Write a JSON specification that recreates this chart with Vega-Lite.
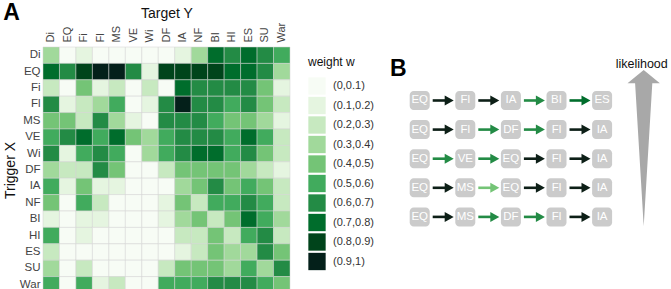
{
  "$schema": "https://vega.github.io/schema/vega-lite/v6.json",
  "padding": {"left": 3, "top": 2, "right": 0, "bottom": 0},
  "background": "white",
  "config": {
    "font": "Liberation Sans",
    "view": {"stroke": null},
    "axis": {"labelFont": "Liberation Sans", "titleFont": "Liberation Sans"},
    "legend": {"labelFont": "Liberation Sans", "titleFont": "Liberation Sans"},
    "title": {"font": "Liberation Sans"}
  },
  "spacing": 6,
  "resolve": {"scale": {"color": "independent"}, "legend": {"color": "independent"}},
  "datasets": {
    "heat": [
      {"trigger": "Di", "Di": 3, "EQ": 0, "Fi": 1, "Fl": 0, "MS": 0, "VE": 0, "Wi": 0, "DF": 0, "IA": 1, "NF": 3, "BI": 7, "HI": 6, "ES": 7, "SU": 6, "War": 5},
      {"trigger": "EQ", "Di": 7, "EQ": 6, "Fi": 8, "Fl": 9, "MS": 9, "VE": 6, "Wi": 1, "DF": 8, "IA": 8, "NF": 8, "BI": 8, "HI": 7, "ES": 7, "SU": 6, "War": 3},
      {"trigger": "Fi", "Di": 2, "EQ": 0, "Fi": 4, "Fl": 1, "MS": 2, "VE": 0, "Wi": 2, "DF": 0, "IA": 7, "NF": 6, "BI": 6, "HI": 6, "ES": 6, "SU": 4, "War": 1},
      {"trigger": "Fl", "Di": 6, "EQ": 1, "Fi": 2, "Fl": 3, "MS": 5, "VE": 0, "Wi": 1, "DF": 6, "IA": 9, "NF": 6, "BI": 6, "HI": 5, "ES": 6, "SU": 4, "War": 2},
      {"trigger": "MS", "Di": 4, "EQ": 4, "Fi": 2, "Fl": 6, "MS": 3, "VE": 1, "Wi": 0, "DF": 6, "IA": 6, "NF": 6, "BI": 5, "HI": 4, "ES": 4, "SU": 3, "War": 1},
      {"trigger": "VE", "Di": 5, "EQ": 6, "Fi": 7, "Fl": 5, "MS": 7, "VE": 4, "Wi": 3, "DF": 5, "IA": 6, "NF": 6, "BI": 6, "HI": 5, "ES": 7, "SU": 5, "War": 2},
      {"trigger": "Wi", "Di": 6, "EQ": 1, "Fi": 5, "Fl": 6, "MS": 5, "VE": 0, "Wi": 3, "DF": 5, "IA": 6, "NF": 7, "BI": 7, "HI": 5, "ES": 6, "SU": 4, "War": 2},
      {"trigger": "DF", "Di": 3, "EQ": 2, "Fi": 2, "Fl": 6, "MS": 4, "VE": 0, "Wi": 0, "DF": 2, "IA": 4, "NF": 4, "BI": 4, "HI": 4, "ES": 3, "SU": 2, "War": 1},
      {"trigger": "IA", "Di": 5, "EQ": 1, "Fi": 4, "Fl": 1, "MS": 1, "VE": 0, "Wi": 0, "DF": 0, "IA": 3, "NF": 4, "BI": 6, "HI": 4, "ES": 5, "SU": 4, "War": 2},
      {"trigger": "NF", "Di": 4, "EQ": 0, "Fi": 5, "Fl": 2, "MS": 0, "VE": 0, "Wi": 0, "DF": 1, "IA": 4, "NF": 2, "BI": 5, "HI": 5, "ES": 6, "SU": 5, "War": 2},
      {"trigger": "BI", "Di": 1, "EQ": 0, "Fi": 1, "Fl": 1, "MS": 0, "VE": 0, "Wi": 0, "DF": 1, "IA": 3, "NF": 4, "BI": 2, "HI": 4, "ES": 7, "SU": 5, "War": 3},
      {"trigger": "HI", "Di": 5, "EQ": 0, "Fi": 1, "Fl": 0, "MS": 0, "VE": 0, "Wi": 0, "DF": 0, "IA": 2, "NF": 2, "BI": 4, "HI": 2, "ES": 5, "SU": 6, "War": 2},
      {"trigger": "ES", "Di": 2, "EQ": 0, "Fi": 0, "Fl": 0, "MS": 0, "VE": 0, "Wi": 0, "DF": 0, "IA": 1, "NF": 2, "BI": 4, "HI": 3, "ES": 3, "SU": 6, "War": 4},
      {"trigger": "SU", "Di": 3, "EQ": 0, "Fi": 2, "Fl": 0, "MS": 0, "VE": 0, "Wi": 0, "DF": 2, "IA": 4, "NF": 4, "BI": 4, "HI": 3, "ES": 5, "SU": 3, "War": 6},
      {"trigger": "War", "Di": 5, "EQ": 0, "Fi": 5, "Fl": 1, "MS": 2, "VE": 0, "Wi": 0, "DF": 5, "IA": 5, "NF": 5, "BI": 6, "HI": 6, "ES": 6, "SU": 5, "War": 4}
    ],
    "boxes": [
      {"rank": 1, "step": 0, "label": "EQ"}, {"rank": 1, "step": 1, "label": "Fl"}, {"rank": 1, "step": 2, "label": "IA"}, {"rank": 1, "step": 3, "label": "BI"}, {"rank": 1, "step": 4, "label": "ES"},
      {"rank": 2, "step": 0, "label": "EQ"}, {"rank": 2, "step": 1, "label": "Fl"}, {"rank": 2, "step": 2, "label": "DF"}, {"rank": 2, "step": 3, "label": "Fl"}, {"rank": 2, "step": 4, "label": "IA"},
      {"rank": 3, "step": 0, "label": "EQ"}, {"rank": 3, "step": 1, "label": "VE"}, {"rank": 3, "step": 2, "label": "EQ"}, {"rank": 3, "step": 3, "label": "Fl"}, {"rank": 3, "step": 4, "label": "IA"},
      {"rank": 4, "step": 0, "label": "EQ"}, {"rank": 4, "step": 1, "label": "MS"}, {"rank": 4, "step": 2, "label": "EQ"}, {"rank": 4, "step": 3, "label": "Fl"}, {"rank": 4, "step": 4, "label": "IA"},
      {"rank": 5, "step": 0, "label": "EQ"}, {"rank": 5, "step": 1, "label": "MS"}, {"rank": 5, "step": 2, "label": "DF"}, {"rank": 5, "step": 3, "label": "Fl"}, {"rank": 5, "step": 4, "label": "IA"}
    ],
    "arrows": [
      {"rank": 1, "step": 0, "w": 9}, {"rank": 1, "step": 1, "w": 9}, {"rank": 1, "step": 2, "w": 6}, {"rank": 1, "step": 3, "w": 7},
      {"rank": 2, "step": 0, "w": 9}, {"rank": 2, "step": 1, "w": 6}, {"rank": 2, "step": 2, "w": 6}, {"rank": 2, "step": 3, "w": 9},
      {"rank": 3, "step": 0, "w": 6}, {"rank": 3, "step": 1, "w": 6}, {"rank": 3, "step": 2, "w": 9}, {"rank": 3, "step": 3, "w": 9},
      {"rank": 4, "step": 0, "w": 9}, {"rank": 4, "step": 1, "w": 4}, {"rank": 4, "step": 2, "w": 9}, {"rank": 4, "step": 3, "w": 9},
      {"rank": 5, "step": 0, "w": 9}, {"rank": 5, "step": 1, "w": 6}, {"rank": 5, "step": 2, "w": 6}, {"rank": 5, "step": 3, "w": 9}
    ],
    "scale": [{"step": 5, "rank": 3, "label": "likelihood"}]
  },
  "hconcat": [
    {
      "width": 247,
      "height": 246,
      "title": {"text": "A", "anchor": "start", "frame": "bounds", "fontSize": 23, "fontWeight": "bold", "color": "#000000", "offset": -19},
      "data": {"name": "heat"},
      "transform": [{"fold": ["Di", "EQ", "Fi", "Fl", "MS", "VE", "Wi", "DF", "IA", "NF", "BI", "HI", "ES", "SU", "War"], "as": ["target", "w"]}],
      "mark": {"type": "rect", "stroke": "#d2d2d2", "strokeWidth": 0.5},
      "encoding": {
        "x": {
          "field": "target", "type": "nominal",
          "sort": ["Di", "EQ", "Fi", "Fl", "MS", "VE", "Wi", "DF", "IA", "NF", "BI", "HI", "ES", "SU", "War"],
          "scale": {"paddingInner": 0, "paddingOuter": 0},
          "axis": {"orient": "top", "title": "Target Y", "titleFontSize": 14, "titleFontWeight": "normal", "titleColor": "#111", "titlePadding": 2, "labelAngle": -90, "labelFontSize": 11, "labelColor": "#444", "labelPadding": 5, "ticks": false, "domain": false}
        },
        "y": {
          "field": "trigger", "type": "nominal",
          "sort": ["Di", "EQ", "Fi", "Fl", "MS", "VE", "Wi", "DF", "IA", "NF", "BI", "HI", "ES", "SU", "War"],
          "scale": {"paddingInner": 0, "paddingOuter": 0},
          "axis": {"title": "Trigger X", "titleFontSize": 14, "titleFontWeight": "normal", "titleColor": "#111", "titlePadding": 2, "labelFontSize": 11.5, "labelColor": "#444", "labelPadding": 3, "ticks": false, "domain": false}
        },
        "color": {
          "field": "w", "type": "ordinal",
          "scale": {"domain": [0, 1, 2, 3, 4, 5, 6, 7, 8, 9], "range": ["#f7fcf5", "#e5f5e0", "#c7e9c0", "#a1d99b", "#74c476", "#41ab5d", "#238b45", "#006d2c", "#00441b", "#04201a"]},
          "legend": {
            "title": "weight w", "titleFontSize": 12, "titleFontWeight": "normal", "titleColor": "#111", "titlePadding": 8,
            "labelExpr": "'(' + (datum.value/10) + ',' + ((datum.value+1)/10) + ')'",
            "labelFontSize": 11, "labelColor": "#333", "labelOffset": 7,
            "symbolType": "square", "symbolSize": 300, "symbolStrokeWidth": 0, "symbolOpacity": 1,
            "rowPadding": 1.5, "offset": 8, "padding": 10
          }
        }
      }
    },
    {
      "width": 273,
      "height": 246,
      "title": {"text": "B", "anchor": "start", "frame": "group", "fontSize": 23, "fontWeight": "bold", "color": "#000000", "offset": -34, "dx": -4},
      "layer": [
        {
          "data": {"name": "boxes"},
          "mark": {"type": "rect", "color": "#cbcbcb", "cornerRadius": 4, "xOffset": -10, "x2Offset": 10, "yOffset": -9.5, "y2Offset": 9.5},
          "encoding": {
            "x": {"field": "step", "type": "quantitative", "scale": {"domain": [-0.5636, 5.4232], "nice": false, "zero": false}, "axis": null},
            "x2": {"field": "step"},
            "y": {"field": "rank", "type": "quantitative", "scale": {"domain": [-0.838, 7.615], "nice": false, "zero": false, "reverse": true}, "axis": null},
            "y2": {"field": "rank"}
          }
        },
        {
          "data": {"name": "boxes"},
          "mark": {"type": "text", "color": "white", "fontSize": 11.5, "align": "center", "baseline": "middle"},
          "encoding": {
            "x": {"field": "step", "type": "quantitative"},
            "y": {"field": "rank", "type": "quantitative"},
            "text": {"field": "label"}
          }
        },
        {
          "data": {"name": "arrows"},
          "mark": {"type": "rule", "strokeWidth": 2.6, "xOffset": 13, "x2Offset": 28},
          "encoding": {
            "x": {"field": "step", "type": "quantitative"},
            "x2": {"field": "step"},
            "y": {"field": "rank", "type": "quantitative"},
            "color": {"field": "w", "type": "ordinal", "scale": {"domain": [0, 1, 2, 3, 4, 5, 6, 7, 8, 9], "range": ["#f7fcf5", "#e5f5e0", "#c7e9c0", "#a1d99b", "#74c476", "#41ab5d", "#238b45", "#006d2c", "#00441b", "#0d1f17"]}, "legend": null}
          }
        },
        {
          "data": {"name": "arrows"},
          "mark": {"type": "point", "filled": true, "opacity": 1, "shape": "M-0.8,-1L1,0L-0.8,1Z", "size": 100, "xOffset": 29, "strokeWidth": 0},
          "encoding": {
            "x": {"field": "step", "type": "quantitative"},
            "y": {"field": "rank", "type": "quantitative"},
            "color": {"field": "w", "type": "ordinal", "legend": null}
          }
        },
        {
          "data": {"name": "scale"},
          "mark": {"type": "point", "filled": true, "opacity": 1, "strokeWidth": 0, "shape": "M0,-1L0.207,-0.83L0.11,-0.83L0,1L-0.11,-0.83L-0.207,-0.83Z", "size": 24430, "xOffset": -4, "yOffset": -10.5, "color": "#a8a8a8"},
          "encoding": {
            "x": {"field": "step", "type": "quantitative"},
            "y": {"field": "rank", "type": "quantitative"}
          }
        },
        {
          "data": {"name": "scale"},
          "mark": {"type": "text", "fontSize": 12.5, "color": "#111", "align": "center", "baseline": "middle", "dx": -6, "dy": -95},
          "encoding": {
            "x": {"field": "step", "type": "quantitative"},
            "y": {"field": "rank", "type": "quantitative"},
            "text": {"field": "label"}
          }
        }
      ]
    }
  ]
}
